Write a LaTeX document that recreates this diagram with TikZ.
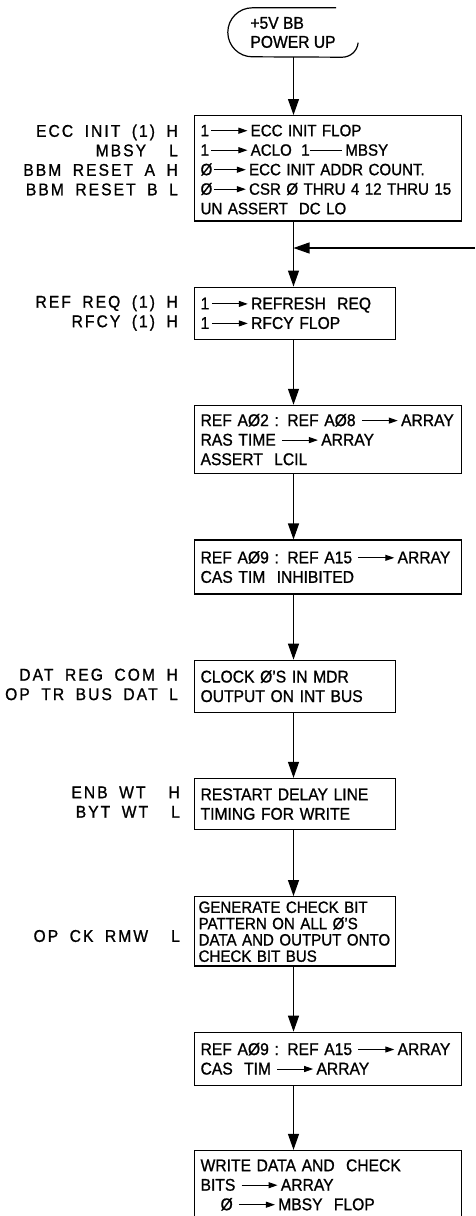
\documentclass[tikz,border=0pt]{standalone}
\usepackage{fontspec}
\setmainfont{Liberation Sans}[FakeStretch=0.92,FakeBold=1]
\newfontfamily\sigfont{Liberation Sans}[FakeStretch=0.92,FakeBold=1,LetterSpace=12,WordSpace=1.8]
\usetikzlibrary{positioning,arrows.meta}

\newcommand\gives[1][36pt]{\tikz[baseline=-5.5pt]\draw[line width=1pt,-{Triangle[length=9pt,width=6pt]}] (0pt,0pt) -- (#1,0pt);}
\newcommand\joins[1][32pt]{\tikz[baseline=-5.5pt]\draw[line width=1pt] (0pt,0pt) -- (#1,0pt);}
\newcommand\capstrut{\rule[-3.75pt]{0pt}{19.5pt}}

\begin{document}
\begin{tikzpicture}[x=1pt,y=1pt,
  box/.style={draw,line width=1.2pt,align=left,inner xsep=6pt,inner ysep=5pt,
    font=\fontsize{17}{19.5}\selectfont,
    execute at begin node=\capstrut,execute at end node=\capstrut},
  wide/.style={box,text width=255pt},
  narrow/.style={box,text width=189pt},
  sig/.style={align=right,inner xsep=0pt,inner ysep=5pt,
    font=\sigfont\fontsize{17}{19.5}\selectfont,
    execute at begin node=\capstrut,execute at end node=\capstrut},
  flow/.style={line width=1.2pt,-{Triangle[length=16pt,width=11pt]}}]
\useasboundingbox (0,0) rectangle (475,-1216);
\coordinate (spine) at (293.5,0);

\node [align=left,minimum width=130pt,minimum height=49pt,
  font=\fontsize{17}{19}\selectfont] (start) at (293,-32.5) {+5V BB\\POWER UP};
\draw [line width=1.2pt] ([xshift=-22pt]start.north east) -- ([xshift=24.5pt]start.north west)
  arc[start angle=90,end angle=270,radius=24.5pt] -- ([xshift=-16pt]start.south east)
  arc[start angle=-90,end angle=-5,radius=16pt];

\node [wide,inner ysep=3pt,minimum height=102pt,font=\fontsize{16.4}{19.5}\selectfont,
  execute at begin node={\rule{0pt}{17.6pt}},execute at end node={},
  anchor=north west] (b1) at (194,-115) {
  1\hspace{2pt}\gives\,ECC INIT FLOP\\
  1\hspace{2pt}\gives\,ACLO \hspace{4pt}1\joins\,MBSY\\
  Ø\hspace{1pt}\gives[32pt]\,ECC INIT ADDR COUNT.\\
  Ø\hspace{1pt}\gives[32pt]\,CSR Ø THRU 4 12 THRU 15\\
  UN ASSERT \ DC LO};
\node [narrow,minimum height=52pt,below=65pt of b1.south west,anchor=north west] (b2) {
  1\hspace{2pt}\gives\,REFRESH \ REQ\\
  1\hspace{2pt}\gives\,RFCY FLOP};
\node [wide,minimum height=68pt,below=65pt of b2.south west,anchor=north west] (b3) {
  REF AØ2 : REF AØ8 \gives\,ARRAY\\
  RAS TIME \gives\,ARRAY\\
  ASSERT \ LCIL};
\node [wide,minimum height=54pt,below=65pt of b3.south west,anchor=north west] (b4) {
  REF AØ9 : REF A15 \gives\,ARRAY\\
  CAS TIM \ INHIBITED};
\node [narrow,minimum height=52pt,below=65pt of b4.south west,anchor=north west] (b5) {
  CLOCK Ø'S IN MDR\\
  OUTPUT ON INT BUS};
\node [narrow,minimum height=51pt,below=65pt of b5.south west,anchor=north west] (b6) {
  RESTART DELAY LINE\\
  TIMING FOR WRITE};
\node [narrow,minimum height=69pt,inner ysep=0.5pt,inner xsep=4pt,text width=193pt,
  font=\fontsize{16.4}{16.3}\selectfont,
  below=66pt of b6.south west,anchor=north west] (b7) {
  GENERATE CHECK BIT\\
  PATTERN ON ALL Ø'S\\
  DATA AND OUTPUT ONTO\\
  CHECK BIT BUS};
\node [wide,minimum height=53pt,below=65pt of b7.south west,anchor=north west] (b8) {
  REF AØ9 : REF A15 \gives\,ARRAY\\
  CAS \ TIM \gives\,ARRAY};
\node [wide,minimum height=68pt,below=64pt of b8.south west,anchor=north west] (b9) {
  WRITE DATA AND \ CHECK\\
  BITS \gives\,ARRAY\\
  \hspace{20pt}Ø \gives\,MBSY \ FLOP};

% signal names
\node [sig,left=16pt of b1,yshift=6.5pt] (s1) {ECC INIT (1) H\\MBSY \ L\\BBM RESET A H\\BBM RESET B L};
\node [sig,left=16pt of b2] (s2) {REF REQ (1) H\\RFCY (1) H};
\node [sig,left=16pt of b5] (s5) {DAT REG COM H\\OP TR BUS DAT L};
\node [sig,left=14pt of b6] (s6) {ENB WT \ H\\BYT WT \ L};
\node [sig,left=14pt of b7,yshift=-4.5pt] (s7) {OP CK RMW \ L};

\coordinate (loop) at (475,-248);
\coordinate (exit) at (293.5,-1216);

\draw [flow] (spine |- start.south) -- (spine |- b1.north);
\draw [flow] (spine |- b1.south) -- (spine |- b2.north);
\draw [flow] (loop) -- (spine |- loop);
\draw [flow] (spine |- b2.south) -- (spine |- b3.north);
\draw [flow] (spine |- b3.south) -- (spine |- b4.north);
\draw [flow] (spine |- b4.south) -- (spine |- b5.north);
\draw [flow] (spine |- b5.south) -- (spine |- b6.north);
\draw [flow] (spine |- b6.south) -- (spine |- b7.north);
\draw [flow] (spine |- b7.south) -- (spine |- b8.north);
\draw [flow] (spine |- b8.south) -- (spine |- b9.north);
\draw [line width=1.2pt] (spine |- b9.south) -- (exit);
\end{tikzpicture}
\end{document}
